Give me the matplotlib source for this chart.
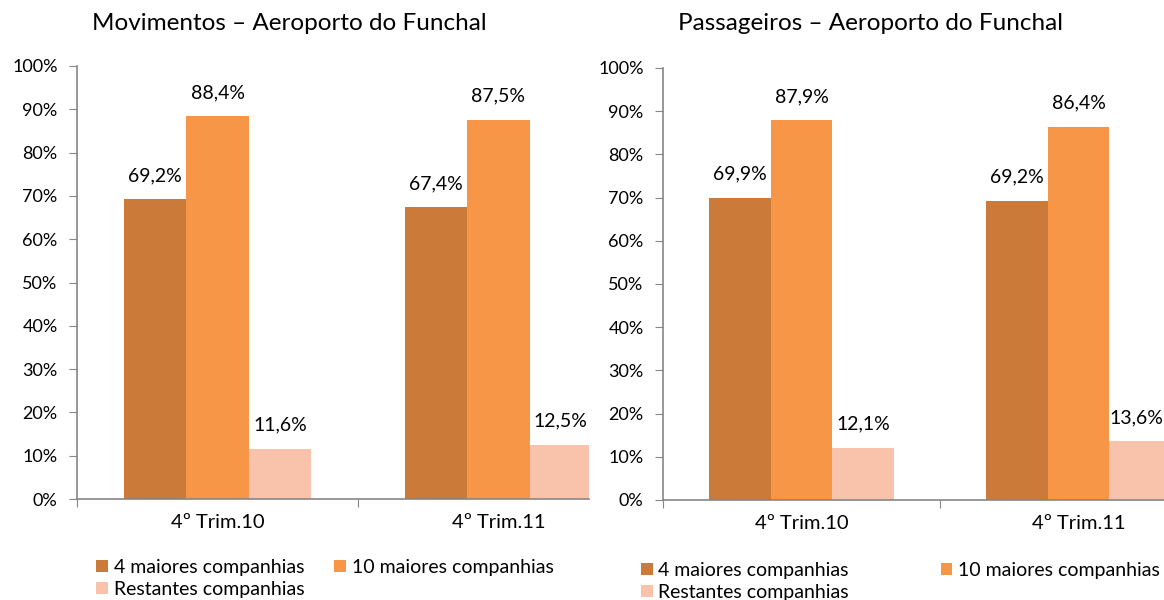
import matplotlib
matplotlib.use("Agg")
import matplotlib.pyplot as plt
from matplotlib.patches import Patch
import numpy as np

plt.rcParams['font.family'] = ['Lato', 'DejaVu Sans']

categories = ["4º Trim.10", "4º Trim.11"]
series_names = ["4 maiores companhias", "10 maiores companhias", "Restantes companhias"]
mov_values = [[69.2, 67.4], [88.4, 87.5], [11.6, 12.5]]
pax_values = [[69.9, 69.2], [87.9, 86.4], [12.1, 13.6]]
titles = ["Movimentos – Aeroporto do Funchal", "Passageiros – Aeroporto do Funchal"]
yticks = [0, 10, 20, 30, 40, 50, 60, 70, 80, 90, 100]
colors = ["#CC7A39", "#F79646", "#F9C2AA"]

W, H = 1164, 600
fig = plt.figure(figsize=(W / 100, H / 100), dpi=100)

def px_axes(x0, x1, y_top, y_bot):
    return fig.add_axes([x0 / W, (H - y_bot) / H, (x1 - x0) / W, (y_bot - y_top) / H])

axes_specs = [
    dict(x0=77, x1=589, yt=66, yb=499, cat_w=281, title_x=289, title_y=23),
    dict(x0=663, x1=1164, yt=68, yb=500, cat_w=277, title_x=870, title_y=23),
]
datasets = [mov_values, pax_values]
spine_col = "#868686"
fs_tick = 13
fs_lab = 14
fs_cat = 14.5
fs_leg = 14

labels = []
for spec, data, title in zip(axes_specs, datasets, titles):
    ax = px_axes(spec['x0'], spec['x1'], spec['yt'], spec['yb'])
    x = np.arange(len(categories))
    bw = 0.222
    for i, (vals, col) in enumerate(zip(data, colors)):
        pos = x + (i - 1) * bw
        ax.bar(pos, vals, width=bw, color=col, edgecolor='none')
        for p, v in zip(pos, vals):
            t = ax.annotate(f"{v:.1f}%".replace('.', ','), xy=(p, v), xytext=(0, 11),
                            textcoords='offset points', ha='center', va='bottom',
                            fontsize=fs_lab, color='black', annotation_clip=False)
            labels.append((t, spec['x1']))
    ax.set_yticks(yticks)
    ax.set_yticklabels([f"{t}%" for t in yticks], fontsize=fs_tick)
    ax.set_xticks([-0.5, 0.5, 1.5])
    ax.set_xticklabels([])
    ax.set_xticks(x, minor=True)
    ax.set_xticklabels(categories, minor=True, fontsize=fs_cat)
    right = (spec['x1'] - spec['x0']) / spec['cat_w'] - 0.5
    ax.set_xlim(-0.5, right)
    ax.set_ylim(0, 100)
    ax.tick_params(axis='x', which='minor', length=0, pad=11)
    ax.tick_params(axis='x', which='major', length=6, color=spine_col, direction='out')
    ax.tick_params(axis='y', length=6, color=spine_col, direction='out', pad=8)
    for s in ['top', 'right']:
        ax.spines[s].set_visible(False)
    for s in ['left', 'bottom']:
        ax.spines[s].set_color(spine_col)
        ax.spines[s].set_linewidth(1.2)
    ax.set_facecolor('none')
    fig.text(spec['title_x'] / W, 1 - spec['title_y'] / H, title, ha='center', va='center',
             fontsize=17.5)

handles = [Patch(facecolor=c, edgecolor='none') for c in colors]
order = [0, 2, 1]
h_ord = [handles[i] for i in order]
l_ord = [series_names[i] for i in order]
leg_kw = dict(loc='upper left', ncol=2, frameon=False, fontsize=fs_leg, handlelength=0.6,
              handleheight=0.6, handletextpad=0.3, labelspacing=0.25, borderpad=0,
              borderaxespad=0)
fig.legend(h_ord, l_ord, bbox_to_anchor=(96 / W, 1 - 559 / H), columnspacing=1.55, **leg_kw)
fig.legend(h_ord, l_ord, bbox_to_anchor=(641 / W, 1 - 562 / H), columnspacing=4.7, **leg_kw)

# keep data labels inside the chart area (as the original does)
fig.canvas.draw()
renderer = fig.canvas.get_renderer()
for t, xlimit in labels:
    bb = t.get_window_extent(renderer)
    if bb.x1 > xlimit - 1:
        shift_pt = (bb.x1 - (xlimit - 1)) * 72 / fig.dpi
        ox, oy = t.xyann
        t.xyann = (ox - shift_pt, oy)

fig.savefig("out.png", dpi=100)
